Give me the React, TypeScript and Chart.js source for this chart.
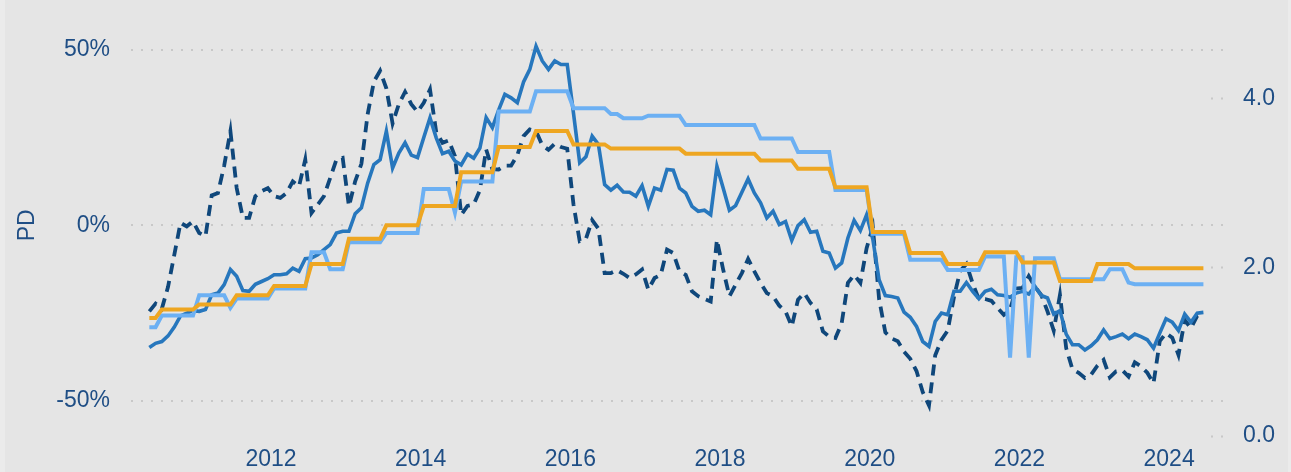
import React, { useEffect, useRef } from 'react';
import { Chart, registerables } from 'chart.js';

Chart.register(...registerables);

// Monthly data, May 2010 .. June 2024
const START_YEAR = 2010;
const START_MONTH = 5;

// Left axis (%): solid blue series
const solidSeries = [
  -34.8, -33.6, -33.1, -31.5, -29.0, -25.8, -25.0, -24.3, -24.5, -24.0,
  -19.8, -19.3, -16.9, -12.6, -14.5, -18.6, -18.8, -16.8, -16.0, -15.2,
  -14.1, -14.1, -13.8, -12.2, -13.1, -9.5, -9.3, -8.4, -6.9, -5.5,
  -2.2, -1.7, -1.7, 3.3, 5.0, 12.0, 17.3, 18.7, 26.8, 16.3,
  20.6, 23.5, 20.0, 19.3, 25.0, 30.6, 24.9, 20.4, 21.1, 18.3,
  17.2, 20.3, 19.1, 22.0, 30.7, 27.8, 32.8, 37.3, 36.3, 34.9,
  40.8, 44.4, 51.0, 46.8, 44.4, 46.8, 45.8, 45.8, 32.0, 17.8,
  19.5, 25.4, 23.0, 11.6, 10.0, 11.4, 9.5, 9.4, 8.3, 11.3,
  5.4, 10.6, 10.0, 15.9, 15.7, 10.6, 9.2, 5.4, 4.0, 4.3,
  3.0, 16.8, 10.6, 4.3, 5.6, 9.4, 13.2, 9.2, 6.4, 2.1,
  4.0, 0.2, 1.1, -4.3, -0.1, 1.6, -2.0, -1.7, -7.4, -7.9,
  -12.2, -10.7, -3.6, 1.4, -1.5, 3.0, -4.0, -15.5, -20.0, -20.3,
  -20.7, -24.7, -26.2, -28.8, -33.1, -34.5, -27.4, -25.0, -25.5, -18.8,
  -18.8, -16.3, -18.8, -20.9, -18.8, -18.2, -19.8, -20.0, -20.5, -19.3,
  -18.8, -19.6, -17.4, -20.0, -20.7, -25.3, -24.3, -31.0, -34.0, -34.0,
  -35.5, -34.3, -32.6, -29.8, -32.3, -31.7, -31.0, -32.3, -31.0, -31.7,
  -32.6, -35.0, -30.7, -26.6, -27.6, -30.0, -25.3, -27.6, -25.0, -24.8,
];

// Left axis (%): dashed navy series
const dashedSeries = [
  -24.5, -22.3, -23.8, -17.5, -8.4, 0.7, -0.3, 1.1, -2.2, -3.1,
  8.5, 9.2, 17.0, 26.8, 10.6, 2.1, 2.1, 8.3, 9.7, 10.6,
  8.3, 7.8, 9.2, 12.5, 11.1, 18.7, 3.5, 5.9, 8.3, 13.5,
  18.7, 19.2, 5.4, 12.5, 17.5, 31.6, 40.9, 44.0, 39.0, 29.0,
  34.5, 38.0, 34.5, 32.3, 34.9, 38.7, 26.5, 23.5, 24.2, 19.7,
  3.0, 5.5, 5.9, 10.0, 21.6, 16.0, 15.9, 17.0, 17.0, 20.0,
  25.4, 27.3, 26.8, 22.8, 21.5, 23.2, 22.3, 21.8, 6.0, -4.5,
  -3.8, 1.5, -1.0, -13.6, -13.6, -12.8, -13.8, -15.0, -14.0, -12.6,
  -18.3, -15.0, -14.1, -6.9, -7.9, -13.1, -14.1, -18.8, -20.2, -21.0,
  -21.7, -4.1, -12.6, -20.2, -16.9, -13.6, -9.6, -13.1, -16.4, -19.3,
  -20.2, -22.9, -24.5, -28.8, -21.2, -19.3, -22.1, -24.0, -30.2, -31.7,
  -32.1, -27.9, -16.4, -14.1, -16.4, -6.5, -0.5, -21.0, -30.5, -32.2,
  -33.0, -36.0, -38.0, -41.5, -47.5, -51.3, -37.0, -32.6, -30.0, -20.5,
  -13.0, -11.0, -16.5, -21.0, -21.0, -21.5, -23.5, -25.5, -24.0, -18.0,
  -17.8, -14.5, -17.5, -19.8, -24.5, -30.0, -19.8, -35.0, -41.0, -42.0,
  -43.5, -42.5, -40.0, -38.3, -43.3, -41.6, -41.3, -43.1, -39.0, -40.2,
  -42.0, -45.0, -33.0, -30.7, -32.0, -36.9, -27.0, -29.3, -25.8, -25.0,
];

// Right axis: light blue step series
const lightSeries = [
  1.29, 1.29, 1.43, 1.43, 1.43, 1.43, 1.43, 1.43, 1.67, 1.67,
  1.67, 1.67, 1.67, 1.52, 1.63, 1.63, 1.63, 1.63, 1.63, 1.63,
  1.75, 1.75, 1.75, 1.75, 1.75, 1.75, 2.18, 2.18, 2.18, 1.98,
  1.98, 1.98, 2.30, 2.30, 2.30, 2.30, 2.30, 2.30, 2.41, 2.41,
  2.41, 2.41, 2.41, 2.41, 2.93, 2.93, 2.93, 2.93, 2.93, 2.65,
  3.02, 3.02, 3.02, 3.02, 3.02, 3.02, 3.85, 3.85, 3.85, 3.85,
  3.85, 3.85, 4.09, 4.09, 4.09, 4.09, 4.09, 4.09, 3.89, 3.89,
  3.89, 3.89, 3.89, 3.89, 3.82, 3.82, 3.77, 3.77, 3.77, 3.77,
  3.80, 3.80, 3.80, 3.80, 3.80, 3.80, 3.69, 3.69, 3.69, 3.69,
  3.69, 3.69, 3.69, 3.69, 3.69, 3.69, 3.69, 3.69, 3.53, 3.53,
  3.53, 3.53, 3.53, 3.53, 3.37, 3.37, 3.37, 3.37, 3.37, 3.37,
  2.92, 2.92, 2.92, 2.92, 2.92, 2.92, 2.40, 2.40, 2.40, 2.40,
  2.40, 2.40, 2.09, 2.09, 2.09, 2.09, 2.09, 2.09, 1.97, 1.97,
  1.97, 1.97, 1.97, 1.97, 2.13, 2.13, 2.13, 2.13, 0.93, 2.12,
  2.12, 0.93, 2.11, 2.11, 2.11, 2.11, 1.86, 1.86, 1.86, 1.86,
  1.86, 1.86, 1.86, 1.86, 1.98, 1.98, 1.98, 1.82, 1.80, 1.80,
  1.80, 1.80, 1.80, 1.80, 1.80, 1.80, 1.80, 1.80, 1.80, 1.80,
];

// Right axis: orange step series
const orangeSeries = [
  1.40, 1.40, 1.50, 1.50, 1.50, 1.50, 1.50, 1.50, 1.56, 1.56,
  1.56, 1.56, 1.56, 1.56, 1.67, 1.67, 1.67, 1.67, 1.67, 1.67,
  1.78, 1.78, 1.78, 1.78, 1.78, 1.78, 2.04, 2.04, 2.04, 2.04,
  2.04, 2.04, 2.34, 2.34, 2.34, 2.34, 2.34, 2.34, 2.50, 2.50,
  2.50, 2.50, 2.50, 2.50, 2.73, 2.73, 2.73, 2.73, 2.73, 2.73,
  3.13, 3.13, 3.13, 3.13, 3.13, 3.13, 3.43, 3.43, 3.43, 3.43,
  3.43, 3.43, 3.62, 3.62, 3.62, 3.62, 3.62, 3.62, 3.46, 3.46,
  3.46, 3.46, 3.46, 3.46, 3.41, 3.41, 3.41, 3.41, 3.41, 3.41,
  3.41, 3.41, 3.41, 3.41, 3.41, 3.41, 3.35, 3.35, 3.35, 3.35,
  3.35, 3.35, 3.35, 3.35, 3.35, 3.35, 3.35, 3.35, 3.27, 3.27,
  3.27, 3.27, 3.27, 3.27, 3.17, 3.17, 3.17, 3.17, 3.17, 3.17,
  2.95, 2.95, 2.95, 2.95, 2.95, 2.95, 2.42, 2.42, 2.42, 2.42,
  2.42, 2.42, 2.17, 2.17, 2.17, 2.17, 2.17, 2.17, 2.04, 2.04,
  2.04, 2.04, 2.04, 2.04, 2.18, 2.18, 2.18, 2.18, 2.18, 2.18,
  2.06, 2.06, 2.06, 2.06, 2.06, 2.06, 1.84, 1.84, 1.84, 1.84,
  1.84, 1.84, 2.04, 2.04, 2.04, 2.04, 2.04, 2.04, 1.99, 1.99,
  1.99, 1.99, 1.99, 1.99, 1.99, 1.99, 1.99, 1.99, 1.99, 1.99,
];

// Month labels "YYYY-MM"
const months: string[] = solidSeries.map((_, i) => {
  const m = START_MONTH - 1 + i;
  return `${START_YEAR + Math.floor(m / 12)}-${String((m % 12) + 1).padStart(2, '0')}`;
});

const xTickYears = [2012, 2014, 2016, 2018, 2020, 2022, 2024];
const leftTicks = [-50, 0, 50];
const rightTicks = [0, 2, 4];

const TEXT = '#1f4e85';
const ORANGE = '#eea621';
const LIGHT = '#6cb0f3';
const SOLID = '#2777bd';
const DASHED = '#0f477b';
const GRID = '#c8c8c8';
const FONT = "'Liberation Sans', Arial, sans-serif";

const toX = (label: string) => {
  const [y, m] = label.split('-').map(Number);
  return y + (m - 0.5) / 12;
};
const toPoints = (vals: number[]) => vals.map((v, i) => ({ x: toX(months[i]), y: v }));

export default function App() {
  const ref = useRef<HTMLCanvasElement>(null);

  useEffect(() => {
    document.body.style.margin = '0';
    const canvas = ref.current;
    if (!canvas) return;
    Chart.defaults.font.family = FONT;

    const chart = new Chart(canvas, {
      type: 'line',
      data: {
        datasets: [
          {
            label: 'Orange',
            data: toPoints(orangeSeries),
            yAxisID: 'y2',
            borderColor: ORANGE,
            borderWidth: 4,
            pointRadius: 0,
            tension: 0,
          },
          {
            label: 'Light',
            data: toPoints(lightSeries),
            yAxisID: 'y2',
            borderColor: LIGHT,
            borderWidth: 4,
            pointRadius: 0,
            tension: 0,
          },
          {
            label: 'Solid',
            data: toPoints(solidSeries),
            yAxisID: 'y',
            borderColor: SOLID,
            borderWidth: 3.6,
            pointRadius: 0,
            tension: 0,
          },
          {
            label: 'Dashed',
            data: toPoints(dashedSeries),
            yAxisID: 'y',
            borderColor: DASHED,
            borderWidth: 3.8,
            borderDash: [11, 7],
            pointRadius: 0,
            tension: 0,
          },
        ],
      },
      options: {
        animation: false,
        responsive: false,
        layout: { padding: { top: 0, left: 0, right: 0, bottom: 0 } },
        plugins: { legend: { display: false }, tooltip: { enabled: false } },
        scales: {
          x: {
            type: 'linear',
            min: 2010.13,
            max: 2024.72,
            grid: { display: false, drawTicks: false },
            border: { display: false },
            ticks: {
              color: TEXT,
              font: { size: 23 },
              padding: 10,
              maxRotation: 0,
              autoSkip: false,
              callback: (v: any) => String(v),
            },
            afterBuildTicks: (s: any) => {
              s.ticks = xTickYears.map((v) => ({ value: v }));
            },
            afterFit: (s: any) => {
              s.height = 36;
              s.paddingLeft = 0;
              s.paddingRight = 0;
            },
          },
          y: {
            position: 'left',
            min: -60,
            max: 60,
            grid: { color: GRID, lineWidth: 2, drawTicks: false },
            border: { display: false, dash: [2, 8] },
            ticks: {
              color: TEXT,
              font: { size: 23 },
              padding: 21,
              callback: (v: any) => `${v}%`,
            },
            title: {
              display: true,
              text: 'PD',
              color: TEXT,
              font: { size: 23 },
              padding: { top: 9, bottom: 0 },
            },
            afterBuildTicks: (s: any) => {
              s.ticks = leftTicks.map((v) => ({ value: v }));
            },
            afterFit: (s: any) => {
              s.width = 126;
              s.paddingTop = 14.6;
              s.paddingBottom = 0;
            },
          },
          y2: {
            position: 'right',
            min: 0,
            max: 5,
            grid: {
              drawOnChartArea: false,
              drawTicks: true,
              tickLength: -12,
              tickColor: GRID,
              tickWidth: 2,
              tickBorderDash: [2, 8],
            },
            border: { display: false },
            ticks: {
              color: TEXT,
              font: { size: 23 },
              padding: 32,
              callback: (v: any) => Number(v).toFixed(1),
            },
            afterBuildTicks: (s: any) => {
              s.ticks = rightTicks.map((v) => ({ value: v }));
            },
            afterFit: (s: any) => {
              s.width = 65;
              s.paddingTop = 14.6;
              s.paddingBottom = 0;
            },
          },
        },
      },
    } as any);

    return () => chart.destroy();
  }, []);

  return (
    <div style={{ width: 1291, height: 472, background: '#ebebeb', position: 'relative', overflow: 'hidden' }}>
      <div style={{ position: 'absolute', left: 5, top: 0, width: 1283, height: 472, background: '#e5e5e5' }}>
        <canvas ref={ref} width={1283} height={472} style={{ display: 'block', width: 1283, height: 472 }} />
      </div>
    </div>
  );
}
